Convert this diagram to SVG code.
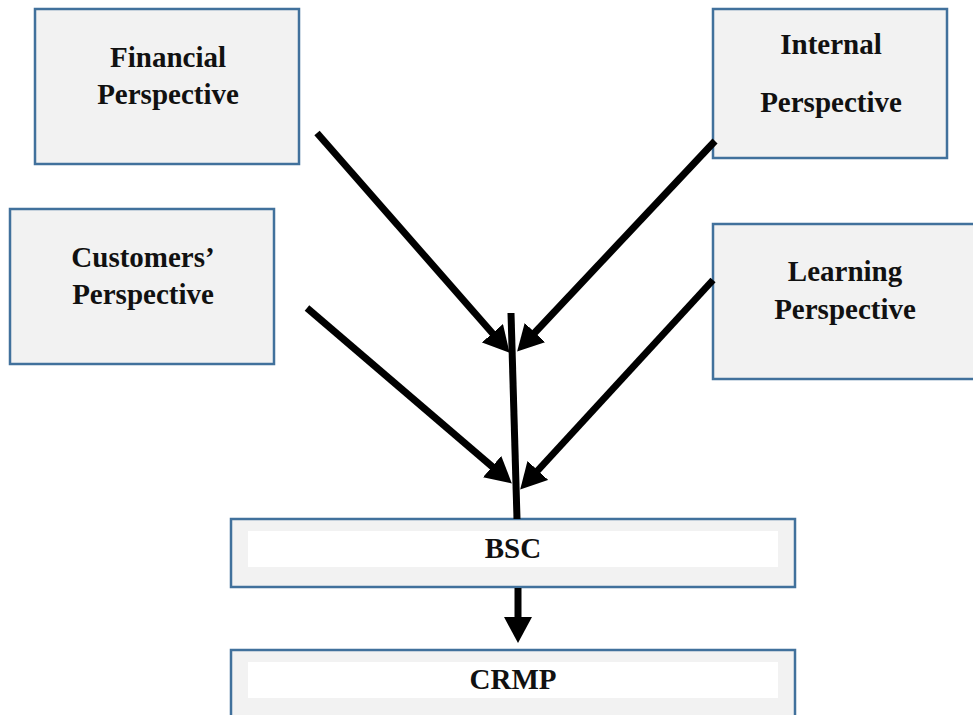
<svg xmlns="http://www.w3.org/2000/svg" width="973" height="715" viewBox="0 0 973 715">
<defs>
<style>
.box{fill:#f2f2f2;stroke:#41719c;stroke-width:2.5}
.inner{fill:#ffffff;stroke:none}
.lbl{font-family:"Liberation Serif","Times New Roman",serif;font-weight:bold;font-size:29px;fill:#111;text-anchor:middle}
.con{stroke:#000;stroke-width:7;fill:none}
</style>
<marker id="ah" viewBox="0 0 26 28" refX="13" refY="14" markerWidth="26" markerHeight="28" markerUnits="userSpaceOnUse" orient="auto">
<path d="M0,0 L26,14 L0,28 z" fill="#000"/>
</marker>
</defs>
<rect width="973" height="715" fill="#fff"/>
<g id="financial">
<rect class="box" x="35" y="9" width="264" height="155"/>
<text class="lbl" x="168" y="67">Financial</text>
<text class="lbl" x="168" y="104">Perspective</text>
</g>
<g id="internal">
<rect class="box" x="713" y="9" width="234" height="149"/>
<text class="lbl" x="831" y="54">Internal</text>
<text class="lbl" x="831" y="112">Perspective</text>
</g>
<g id="customers">
<rect class="box" x="10" y="209" width="264" height="155"/>
<text class="lbl" x="143" y="267">Customers’</text>
<text class="lbl" x="143" y="304">Perspective</text>
</g>
<g id="learning">
<rect class="box" x="713" y="224" width="270" height="155"/>
<text class="lbl" x="845" y="281">Learning</text>
<text class="lbl" x="845" y="319">Perspective</text>
</g>
<g id="bsc">
<rect class="box" x="231" y="519" width="564" height="68"/>
<rect class="inner" x="248" y="531" width="530" height="36"/>
<text class="lbl" x="513" y="558">BSC</text>
</g>
<g id="crmp">
<rect class="box" x="231" y="650" width="564" height="80"/>
<rect class="inner" x="248" y="662" width="530" height="36"/>
<text class="lbl" x="513" y="689">CRMP</text>
</g>
<g id="connectors">
<line class="con" x1="511" y1="313" x2="517" y2="519"/>
<line class="con" x1="317" y1="133" x2="501" y2="343" marker-end="url(#ah)"/>
<line class="con" x1="715" y1="141" x2="526" y2="342" marker-end="url(#ah)"/>
<line class="con" x1="307" y1="308" x2="502" y2="475" marker-end="url(#ah)"/>
<line class="con" x1="713" y1="280" x2="529" y2="480" marker-end="url(#ah)"/>
<line class="con" x1="518" y1="588" x2="518" y2="630" marker-end="url(#ah)"/>
</g>
</svg>
